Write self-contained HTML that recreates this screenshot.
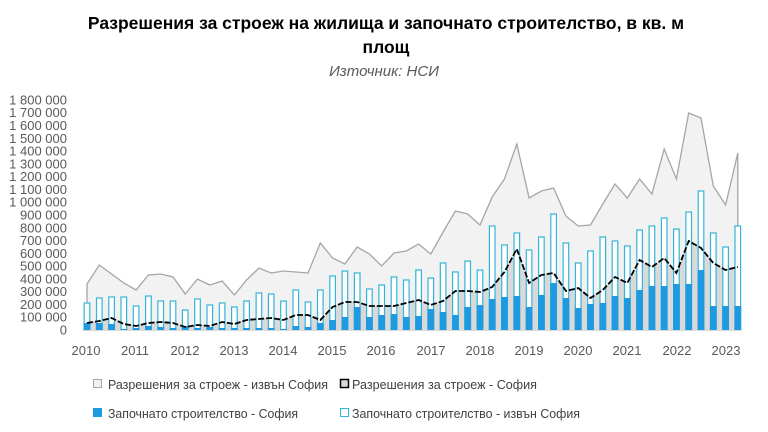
<!DOCTYPE html>
<html><head><meta charset="utf-8"><style>
body{margin:0;background:#fff;width:768px;height:432px;overflow:hidden}
svg{display:block;font-family:"Liberation Sans",sans-serif}
</style></head><body>
<svg id="s" width="768" height="432" viewBox="0 0 768 432">
<text x="386" y="29" text-anchor="middle" font-size="17.5" font-weight="bold" fill="#000">Разрешения за строеж на жилища и започнато строителство, в кв. м</text>
<text x="386" y="53" text-anchor="middle" font-size="17.5" font-weight="bold" fill="#000">площ</text>
<text x="384" y="76" text-anchor="middle" font-size="15" font-style="italic" fill="#595959">Източник: НСИ</text>
<g id="g"></g>
<g font-size="13" fill="#595959" text-anchor="end" id="yl"></g>
<g font-size="13" fill="#595959" text-anchor="middle">
<text x="86" y="355">2010</text><text x="135" y="355">2011</text><text x="185" y="355">2012</text><text x="234" y="355">2013</text><text x="283" y="355">2014</text><text x="332" y="355">2015</text><text x="381" y="355">2016</text><text x="431" y="355">2017</text><text x="480" y="355">2018</text><text x="529" y="355">2019</text><text x="578" y="355">2020</text><text x="627" y="355">2021</text><text x="677" y="355">2022</text><text x="726" y="355">2023</text>
</g>
<g font-size="13" fill="#404040">
<rect x="93.5" y="379.5" width="8" height="8" fill="#f2f2f2" stroke="#a6a6a6"/>
<text x="108" y="389" textLength="220" lengthAdjust="spacingAndGlyphs">Разрешения за строеж - извън София</text>
<rect x="340.5" y="379.5" width="8" height="8" fill="#d9d9d9" stroke="#000" stroke-width="1.5"/>
<text x="352" y="389" textLength="185" lengthAdjust="spacingAndGlyphs">Разрешения за строеж -  София</text>
<rect x="93" y="408" width="9" height="9" fill="#1e9be0"/>
<text x="108" y="418" textLength="190" lengthAdjust="spacingAndGlyphs">Започнато строителство - София</text>
<rect x="340.5" y="408.5" width="8" height="8" fill="#fff" stroke="#33b5d9"/>
<text x="352" y="418" textLength="228" lengthAdjust="spacingAndGlyphs">Започнато строителство - извън София</text>
</g>
</svg>
<script>
var hol=[303,298,297,297,306,296,301,301,310,299,305,303,307,301,293,294,301,290,302,290,276,271,273,289,285,277,280,270,278,263,272,261,270,226,245,233,250,237,214,243,263,251,237,241,246,230,226,218,229,212,191,233,247,226];
var blu=[323,323,324,329,328,326,327,328,326,328,327,328,328,328,328,328,329,326,327,323,320,317,307,317,315,314,317,316,309,312,315,307,305,299,297,296,307,295,283,298,308,304,303,296,298,290,286,286,284,284,270,306,306,306];
var gry=[284,265,274,283,290,275,274,277,294,279,285,281,295,280,268,273,271,272,273,243,258,264,247,254,266,253,251,244,254,232,211,214,225,197,179,144,198,191,188,216,226,225,204,184,198,179,194,149,179,113,118,186,205,153];
var blk=[323,321,318,324,326,323,322,323,327,325,326,322,324,320,319,318,320,315,315,320,307,302,302,306,306,306,303,300,305,301,291,291,292,287,272,249,283,275,273,291,288,298,290,277,283,260,267,258,273,241,248,263,270,267];
var B=330,h='';
function X(i){return 87+12.28*i}
var p1='M'+X(0)+' '+B,p2='M'+X(0)+' '+B,l1='',l2='';
for(var i=0;i<54;i++){p1+=' L'+X(i).toFixed(1)+' '+gry[i];p2+=' L'+X(i).toFixed(1)+' '+blk[i];l1+=(i?' L':'M')+X(i).toFixed(1)+' '+gry[i];l2+=(i?' L':'M')+X(i).toFixed(1)+' '+blk[i];}
p1+=' L'+X(53).toFixed(1)+' '+B+' Z';p2+=' L'+X(53).toFixed(1)+' '+B+' Z';
h+='<path d="'+p1+'" fill="#f2f2f2"/><path d="'+l1+' L'+X(53).toFixed(1)+' '+B+'" fill="none" stroke="#a6a6a6" stroke-width="1.3"/>';
h+='<path d="M'+X(0)+' '+B+' L'+X(0)+' '+gry[0]+'" stroke="#a6a6a6" stroke-width="1.3"/>';
h+='<path d="'+p2+'" fill="#d9d9d9"/>';
for(var i=0;i<54;i++){var x=X(i)-2.8;h+='<rect x="'+x.toFixed(1)+'" y="'+hol[i]+'" width="5.6" height="'+(B-hol[i])+'" fill="#fff" stroke="#33b5d9" stroke-width="1.2"/>';h+='<rect x="'+(x-0.6).toFixed(1)+'" y="'+blu[i]+'" width="6.8" height="'+(B-blu[i])+'" fill="#1e9be0"/>';}
h+='<path d="'+l2+'" fill="none" stroke="#000" stroke-width="1.8" stroke-dasharray="6 2"/>';
h+='<line x1="82" y1="330.5" x2="742" y2="330.5" stroke="#d9d9d9"/>';
document.getElementById('g').innerHTML=h;
var y='';
for(var k=0;k<=18;k++){var v=k*100000;var s=v.toString().replace(/\B(?=(\d{3})+(?!\d))/g,' ');y+='<text x="67" y="'+(334.5-k*12.78).toFixed(1)+'">'+s+'</text>';}
document.getElementById('yl').innerHTML=y;
</script>
</body></html>
